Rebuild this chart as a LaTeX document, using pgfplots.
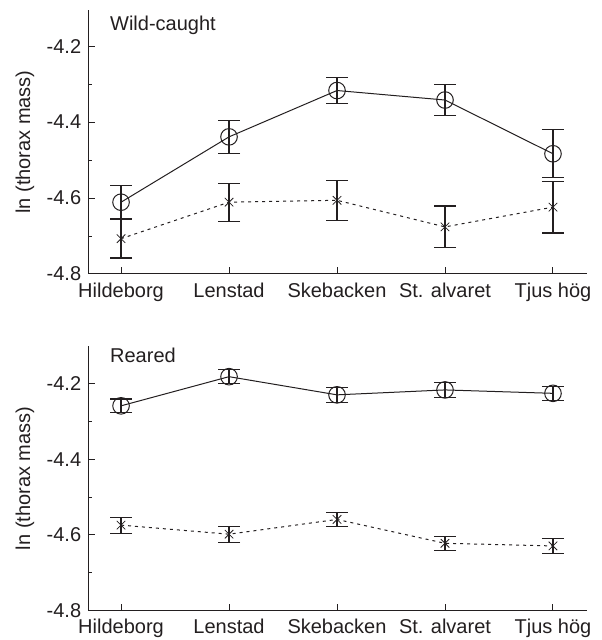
\documentclass[border=0pt]{standalone}
\usepackage{pgfplots}
\pgfplotsset{compat=1.18}
\usepackage{fontspec}
\setmainfont{Liberation Sans}
\definecolor{ink}{RGB}{35,31,32}
\pgfplotstableread{
x y e
0 -4.611 0.044
1 -4.439 0.043
2 -4.317 0.035
3 -4.342 0.040
4 -4.4835 0.0635
}\wildA
\pgfplotstableread{
x y e
0 -4.707 0.051
1 -4.611 0.050
2 -4.606 0.052
3 -4.676 0.055
4 -4.624 0.068
}\wildB
\pgfplotstableread{
x y e
0 -4.259 0.018
1 -4.182 0.019
2 -4.230 0.020
3 -4.217 0.019
4 -4.226 0.018
}\rearA
\pgfplotstableread{
x y e
0 -4.574 0.021
1 -4.598 0.021
2 -4.559 0.018
3 -4.622 0.019
4 -4.629 0.019
}\rearB
\newcommand{\bigf}{\fontsize{20}{24}\selectfont}
\pgfplotsset{
  panel/.style={
    scale only axis, width=499pt,
    axis x line*=bottom, axis y line*=left,
    axis line style={ink, line width=1pt},
    xmin=-0.306, xmax=4.315, ymin=-4.8,
    xtick={0,1,2,3,4},
    xticklabels={Hildeborg,Lenstad,Skebacken,St. alvaret,Tjus hög},
    ytick={-4.8,-4.6,-4.4,-4.2},
    yticklabels={-4.8,-4.6,-4.4,-4.2},
    minor ytick={-4.7,-4.5,-4.3},
    tick align=inside, major tick length=7pt, minor tick length=4pt,
    tick style={ink, line width=1pt},
    ticklabel style={font=\bigf, text=ink},
    xticklabel style={yshift=-5pt},
    yticklabel style={xshift=-3.3pt},
    ylabel={ln (thorax mass)},
    ylabel style={at={(axis description cs:-0.1263,0.5)}, anchor=center,
      font=\bigf, text=ink},
    clip=false,
  },
  ebars/.style={ink, mark=none, forget plot, solid, line width=1.1pt, draw=none,
    error bars/.cd, y dir=both, y explicit,
    error bar style={draw=ink, line width=1.1pt, solid},
    error mark options={draw=ink, rotate=90, mark size=11pt, line width=1.1pt, solid}},
  solidser/.style={ink, line width=1pt, mark=o, mark size=8.3pt,
    mark options={solid, fill=white, line width=1pt}},
  dotser/.style={ink, line width=1pt, dash pattern=on 3pt off 4pt, mark=x, mark size=6pt,
    mark options={solid, line width=0.8pt}},
}
\begin{document}
\begin{tikzpicture}
\useasboundingbox (0,0) rectangle (602pt,640pt);
\begin{axis}[panel, at={(88pt,366pt)}, anchor=south west, height=264pt, ymax=-4.105]
\addplot[ebars] table[x=x, y=y, y error=e] {\wildB};
\addplot[ebars] table[x=x, y=y, y error=e] {\wildA};
\addplot[dotser] table[x=x, y=y] {\wildB};
\addplot[solidser] table[x=x, y=y] {\wildA};
\node[anchor=north west, inner sep=0pt, font=\bigf, text=ink]
  at (axis description cs:0.044,1) [yshift=-6pt] {Wild-caught};
\end{axis}
\begin{axis}[panel, at={(88pt,29.3pt)}, anchor=south west, height=264.7pt, ymax=-4.101]
\addplot[ebars] table[x=x, y=y, y error=e] {\rearB};
\addplot[ebars] table[x=x, y=y, y error=e] {\rearA};
\addplot[dotser] table[x=x, y=y] {\rearB};
\addplot[solidser] table[x=x, y=y] {\rearA};
\node[anchor=north west, inner sep=0pt, font=\bigf, text=ink]
  at (axis description cs:0.044,1) [yshift=-2pt] {Reared};
\end{axis}
\end{tikzpicture}
\end{document}
